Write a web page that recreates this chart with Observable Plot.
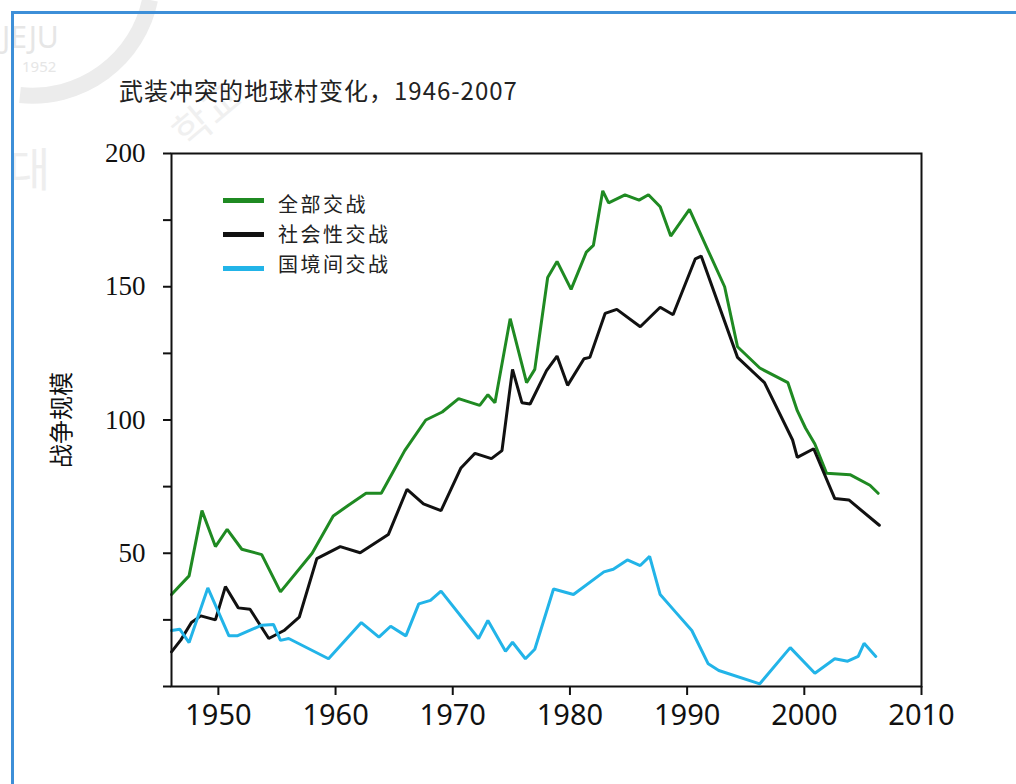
<!DOCTYPE html>
<html>
<head>
<meta charset="utf-8">
<script src="https://cdn.jsdelivr.net/npm/d3@7"></script>
<script src="https://cdn.jsdelivr.net/npm/@observablehq/plot@0.6"></script>
<style>
  html, body { margin: 0; padding: 0; background: #fff; }
  #page { position: relative; width: 1016px; height: 784px; overflow: hidden; background: #fff; }
  #watermark { position: absolute; left: 0; top: 0; }
  #border { position: absolute; left: 11px; top: 11px; width: 1010px; height: 780px;
            border-top: 3px solid #3d8fd8; border-left: 3px solid #3d8fd8; }
  #title { position: absolute; left: 119px; top: 76px; font-family: "Noto Sans CJK SC", sans-serif;
           font-size: 24px; letter-spacing: 1px; color: #222; white-space: nowrap; line-height: 1.2; }
  #chart { position: absolute; left: 0; top: 0; }
  .lg-line { position: absolute; height: 5px; width: 41px; }
  #lg-texts { position: absolute; left: 278px; top: 189px; font-family: "Noto Sans CJK SC", sans-serif;
              font-size: 20px; letter-spacing: 2.5px; color: #222; white-space: nowrap; line-height: 30px; }
</style>
</head>
<body>
<div id="page">
  <svg id="watermark" width="320" height="220">
    <path d="M 150 0 A 120 120 0 0 1 20 95" fill="none" stroke="#ececec" stroke-width="16"/>
    <text x="2" y="48" font-family="Noto Sans, sans-serif" font-size="30" fill="#e6e6e6">JEJU</text>
    <text x="22" y="72" font-family="Noto Sans, sans-serif" font-size="15" fill="#e6e6e6">1952</text>
    <text x="8" y="186" font-family="Noto Sans CJK KR, sans-serif" font-size="46" fill="#eeeeee">대</text>
    <text x="0" y="0" transform="translate(188,150) rotate(-40)" font-family="Noto Sans CJK KR, sans-serif" font-size="40" fill="#f0f0f0">학교</text>
  </svg>
  <div id="border"></div>
  <div id="chart"></div>
  <div id="title"></div>
  <div id="legend"></div>
</div>
<script>
// ---- data ----
const titleText = "武装冲突的地球村变化，1946-2007";
const yTitle = "战争规模";
const seriesNames = ["全部交战", "社会性交战", "国境间交战"];
const seriesColors = ["#1f8a22", "#111111", "#22b4e8"];

const allYears  = [1946.0,1947.5,1948.6,1949.75,1950.75,1952.0,1953.7,1955.3,1958.0,1959.8,1961.1,1962.6,1963.9,1964.9,1965.9,1967.7,1969.1,1970.5,1972.3,1973.0,1973.6,1974.9,1976.3,1977.0,1978.1,1978.9,1980.1,1981.4,1982.0,1982.8,1983.3,1984.7,1985.9,1986.7,1987.7,1988.6,1990.2,1991.8,1993.2,1994.3,1996.2,1998.6,1999.4,2000.1,2000.9,2001.9,2003.9,2005.6,2006.3];
const allValues = [34.5,41.5,66,52.5,59,51.5,49.5,35.5,50,64,68,72.5,72.5,80.5,88.5,100,103,108,105.5,109.5,106.5,138,114,119,153.5,159.5,149,163,165.5,186,181.5,184.5,182.5,184.5,180,169,179,163.5,150,127.5,119.5,114,103.5,97,91,80,79.5,75.5,72.5];

const socialYears  = [1946.0,1946.8,1947.7,1948.5,1949.75,1950.6,1951.7,1952.7,1954.3,1955.6,1956.9,1958.4,1960.4,1962.1,1964.5,1966.1,1967.5,1969.0,1970.7,1971.9,1973.3,1974.2,1975.1,1975.9,1976.6,1978.0,1978.9,1979.8,1981.2,1981.7,1983.0,1984.0,1986.0,1987.7,1988.8,1990.7,1991.2,1994.3,1996.6,1999.0,1999.4,2000.8,2002.6,2003.8,2006.4];
const socialValues = [13,17.5,24,26.5,25,37.5,29.5,29,18,21,26,48,52.5,50.2,57,74,68.5,66,82,87.5,85.5,88.5,119,106.5,106,118.5,124,113,123,123.5,140,141.5,135,142.3,139.5,160.5,161.5,123.5,114,92.5,86,89.2,70.5,70,60.5];

const interYears  = [1946.0,1946.7,1947.5,1949.1,1950.9,1951.6,1953.7,1954.7,1955.3,1956.0,1959.4,1962.2,1963.7,1964.7,1966.0,1967.1,1968.1,1969.0,1972.2,1973.0,1974.5,1975.1,1976.2,1977.0,1978.6,1980.3,1982.9,1983.7,1984.9,1986.0,1986.8,1987.7,1989.0,1990.4,1991.8,1992.7,1996.2,1998.8,2000.9,2002.6,2003.7,2004.6,2005.1,2006.1];
const interValues = [21,21.5,16.5,37,19,19,23,23.3,17.3,18,10.4,24,18.5,22.6,19,31,32.3,35.8,18,24.8,13.2,16.6,10.4,14,36.6,34.5,43,44,47.5,45.4,48.8,34.5,28,21,8.5,6,1,14.6,5,10.4,9.5,11.3,16.2,11.3];

const xTicks = [1950, 1960, 1970, 1980, 1990, 2000, 2010];
const yTicks = [0, 25, 50, 75, 100, 125, 150, 175, 200];
const yLabeled = [50, 100, 150, 200];

// ---- build table ----
const yearsBySeries = [allYears, socialYears, interYears];
const valuesBySeries = [allValues, socialValues, interValues];
const rows = [];
seriesNames.forEach((name, i) => {
  yearsBySeries[i].forEach((yr, j) => rows.push({series: name, year: yr, value: valuesBySeries[i][j]}));
});

const chart = Plot.plot({
  width: 1016,
  height: 784,
  marginLeft: 171,
  marginRight: 95,
  marginTop: 153,
  marginBottom: 98,
  style: {background: "transparent", color: "#111"},
  x: {domain: [1946, 2010]},
  y: {domain: [0, 200]},
  color: {domain: seriesNames, range: seriesColors},
  marks: [
    Plot.axisX({ticks: xTicks, tickFormat: d => String(d), tickSize: 9, tickPadding: 9,
                strokeWidth: 2, fontSize: 29, fontFamily: "Noto Sans, sans-serif",
                label: null, fill: "#111"}),
    Plot.axisY({ticks: yTicks, tickFormat: d => yLabeled.includes(d) ? String(d) : "", tickSize: 8,
                tickPadding: 18, strokeWidth: 2, fontSize: 27, fontFamily: "Liberation Serif, serif",
                label: null, fill: "#111"}),
    Plot.line(rows, {x: "year", y: "value", z: "series", stroke: "series", strokeWidth: 3,
                     strokeLinejoin: "miter"}),
    Plot.frame({stroke: "#111", strokeWidth: 2}),
    Plot.text([yTitle], {text: d => d, frameAnchor: "left", textAnchor: "middle", dx: -109, rotate: -90,
                         fontSize: 24, fontFamily: "Noto Sans CJK SC, sans-serif", fill: "#111"})
  ]
});
document.getElementById("chart").appendChild(chart);
document.getElementById("title").textContent = titleText;

// legend (HTML overlay inside the plot frame)
const legend = document.getElementById("legend");
const lineTops = [198, 232, 266];
seriesNames.forEach((name, i) => {
  const sw = document.createElement("div");
  sw.className = "lg-line";
  sw.style.left = "223px";
  sw.style.top = lineTops[i] + "px";
  sw.style.background = seriesColors[i];
  legend.appendChild(sw);
});
const texts = document.createElement("div");
texts.id = "lg-texts";
texts.innerHTML = seriesNames.join("<br>");
legend.appendChild(texts);
</script>
</body>
</html>
